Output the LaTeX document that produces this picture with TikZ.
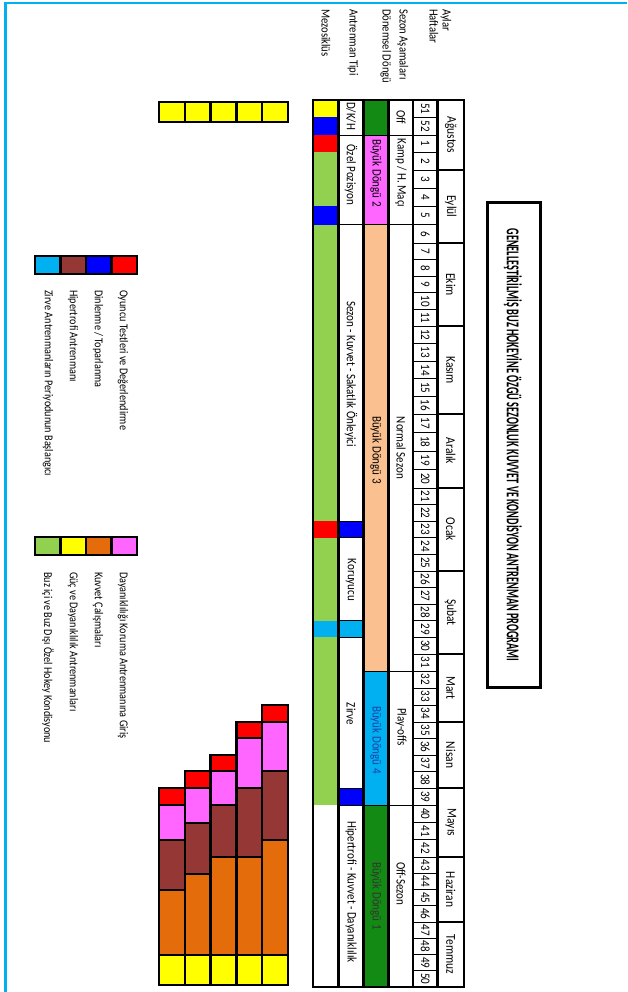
\documentclass[tikz,border=0pt]{standalone}
\usepackage{fontspec}
\setmainfont{Carlito}[FakeStretch=0.85]
\newfontfamily\titlefont{Carlito}[FakeStretch=0.57]
\usetikzlibrary{positioning,calc}

\definecolor{lgreen}{HTML}{92D050}
\definecolor{dgreen}{HTML}{138A13}
\definecolor{pinkc}{HTML}{FF66FF}
\definecolor{peach}{HTML}{FAC090}
\definecolor{cyanc}{HTML}{00B0F0}
\definecolor{brownc}{HTML}{953735}
\definecolor{orangec}{HTML}{E46C0A}
\definecolor{bluec}{HTML}{0000FF}
\definecolor{redc}{HTML}{FF0000}
\definecolor{yellowc}{HTML}{FFFF00}
\definecolor{bdtext}{HTML}{1A3FA8}

\begin{document}
\begin{tikzpicture}[x=1pt, y=-1pt,
  vtext/.style={rotate=-90, inner sep=0pt, font=\fontsize{13}{14}\selectfont},
  hdr/.style={vtext, anchor=west, font=\fontsize{12.5}{13}\selectfont},
  wk/.style={vtext, font=\fontsize{13}{14}\selectfont},
  leg/.style={vtext, anchor=west, font=\fontsize{12}{13}\selectfont},
  thickline/.style={line width=2.5pt},
  thinline/.style={line width=0.9pt},
  monthline/.style={line width=2pt},
  bar/.style={draw, line width=2.4pt},
]
\useasboundingbox (0,0) rectangle (627,992);
\draw[cyanc, line width=2.5pt] (5.3,992) -- (5.3,3) -- (627,3);

% week and row edges
\foreach \v [count=\i from 0] in {100,117.5,135,152.5,170,188.25,206.5,224.75,243,259.6,276.2,292.8,309.4,326,343.6,361.2,378.8,396.4,414,432.5,451,469.5,488,504.6,521.2,537.8,554.4,571,587.6,604.2,620.8,637.4,654,671,688,705,722,738.5,755,771.5,788,805.25,822.5,839.75,857,873.25,889.5,905.75,922,938.25,954.5,970.75,987}
  \coordinate (w\i) at (0,\v);
\foreach \v [count=\i from 0] in {313,338.5,363.5,388.5,413,437.5,464}
  \coordinate (r\i) at (\v,0);

% row headers
\node (hAy) [hdr] at (446,9) {Aylar};
\node (hHf) [hdr] at (434,9) {Haftalar};
\node (hSz) [hdr] at (403,9) {Sezon Aşamaları};
\node (hDd) [hdr] at (386,9) {Dönemsel Döngü};
\node (hAt) [hdr] at (353,9) {Antrenman Tipi};
\node (hMz) [hdr] at (326,9) {Mezosiklüs};

% title
\draw[line width=3pt] (487,203) rectangle (540,687);
\node (title) [vtext, font=\titlefont\bfseries\fontsize{18}{20}\selectfont] at (513,445)
  {GENELLEŞTİRİLMİŞ BUZ HOKEYİNE ÖZGÜ SEZONLUK KUVVET VE KONDİSYON ANTRENMAN PROGRAMI};

% mezosiklus
\foreach \a/\b/\c in {0/1/yellowc,1/2/bluec,2/3/redc,3/6/lgreen,6/7/bluec,7/24/lgreen,24/25/redc,25/30/lgreen,30/31/cyanc,31/41/lgreen}
  \fill[\c] (r0 |- w\a) rectangle (r1 |- w\b);
% antrenman tipi
\foreach \a/\b/\c in {0/2/white,2/7/white,7/24/white,24/25/bluec,25/30/white,30/31/cyanc,31/40/white,40/41/bluec,41/52/white}
  \filldraw[fill=\c, thinline] (r1 |- w\a) rectangle (r2 |- w\b);
% donemsel dongu
\foreach \a/\b/\c in {0/2/dgreen,2/7/pinkc,7/33/peach,33/41/cyanc,41/52/dgreen}
  \filldraw[fill=\c, thinline] (r2 |- w\a) rectangle (r3 |- w\b);
% sezon asamalari
\foreach \a/\b in {0/2,2/7,7/33,33/41,41/52}
  \draw[thinline] (r3 |- w\a) rectangle (r4 |- w\b);
% haftalar
\foreach \a [evaluate={\b=int(\a+1); \n=int(mod(\a+50,52)+1);}] in {0,...,51} {
  \draw[thinline] (r4 |- w\a) rectangle (r5 |- w\b);
  \node (wk\a) [wk] at ($(r4 |- w\a)!0.5!(r5 |- w\b)$) {\n};
}
% aylar
\foreach \a/\b/\m in {0/4/Ağustos,4/8/Eylül,8/13/Ekim,13/18/Kasım,18/22/Aralık,22/27/Ocak,27/32/Şubat,32/36/Mart,36/40/Nisan,40/44/Mayıs,44/48/Haziran,48/52/Temmuz} {
  \draw[monthline] (r5 |- w\a) rectangle (r6 |- w\b);
  \node (mo\a) [vtext, font=\fontsize{13.5}{14}\selectfont] at ($(r5 |- w\a)!0.5!(r6 |- w\b)$) {\m};
}
% thick frame
\draw[thickline] (r0 |- w0) rectangle (r6 |- w52);
\foreach \r in {1,...,5}
  \draw[thickline] (r\r |- w0) -- (r\r |- w52);

% cell texts
\node (sOff) [vtext] at (401,117.5) {Off};
\node (sKamp) [vtext] at (401,173) {Kamp / H. Maçı};
\node (sNorm) [vtext] at (401,448) {Normal Sezon};
\node (sPlay) [vtext] at (401,727) {Play-offs};
\node (sOffS) [vtext] at (401,884) {Off-Sezon};
\node (dBD2) [vtext] at (376,173) {Büyük Döngü 2};
\node (dBD3) [vtext] at (376,450) {Büyük Döngü 3};
\node (dBD4) [vtext, bdtext] at (376,740) {Büyük Döngü 4};
\node (dBD1) [vtext, black!80] at (376,896) {Büyük Döngü 1};
\node (aDKH) [vtext] at (351,116) {D/K/H};
\node (aOzel) [vtext] at (351,175) {Özel Pozisyon};
\node (aSez) [vtext] at (351,374) {Sezon - Kuvvet - Sakatlık Önleyici};
\node (aKor) [vtext] at (351,580) {Koruyucu};
\node (aZir) [vtext] at (351,714) {Zirve};
\node (aHip) [vtext] at (351,892) {Hipertrofi - Kuvvet - Dayanıklılık};

% yellow row
\foreach \i in {0,...,4}
  \filldraw[bar, fill=yellowc] (159+25.8*\i,102) rectangle (159+25.8*\i+25.8,122);

% stacked bars
\foreach \i/\r/\p/\b/\o in {0/788/805/840/890,1/771/788/823/874,2/755/771/805/857,3/722/738/788/857,4/705/722/771/840} {
  \filldraw[bar, fill=redc] (159+25.8*\i,\r) rectangle (159+25.8*\i+25.8,\p);
  \filldraw[bar, fill=pinkc] (159+25.8*\i,\p) rectangle (159+25.8*\i+25.8,\b);
  \filldraw[bar, fill=brownc] (159+25.8*\i,\b) rectangle (159+25.8*\i+25.8,\o);
  \filldraw[bar, fill=orangec] (159+25.8*\i,\o) rectangle (159+25.8*\i+25.8,955);
  \filldraw[bar, fill=yellowc] (159+25.8*\i,955) rectangle (159+25.8*\i+25.8,985);
}

% legend 1
\foreach \c [count=\i from 0] in {cyanc,brownc,bluec,redc}
  \filldraw[bar, fill=\c] (35+25.5*\i,256) rectangle (35+25.5*\i+25.5,274);
\node (l1a) [leg] at (123,290) {Oyuncu Testleri ve Değerlendirme};
\node (l1b) [leg] at (98,290) {Dinlenme / Toparlanma};
\node (l1c) [leg] at (73,290) {Hipertrofi Antrenmanı};
\node (l1d) [leg] at (48,290) {Zirve Antrenmanların Periyodunun Başlangıcı};

% legend 2
\foreach \c [count=\i from 0] in {lgreen,yellowc,orangec,pinkc}
  \filldraw[bar, fill=\c] (35+25.5*\i,537) rectangle (35+25.5*\i+25.5,555);
\node (l2a) [leg] at (123,572) {Dayanıklılığı Koruma Antrenmanına Giriş};
\node (l2b) [leg] at (98,572) {Kuvvet Çalışmaları};
\node (l2c) [leg] at (73,572) {Güç ve Dayanıklılık Antrenmanları};
\node (l2d) [leg] at (48,572) {Buz içi ve Buz Dışı Özel Hokey Kondisyonu};
\end{tikzpicture}
\end{document}
